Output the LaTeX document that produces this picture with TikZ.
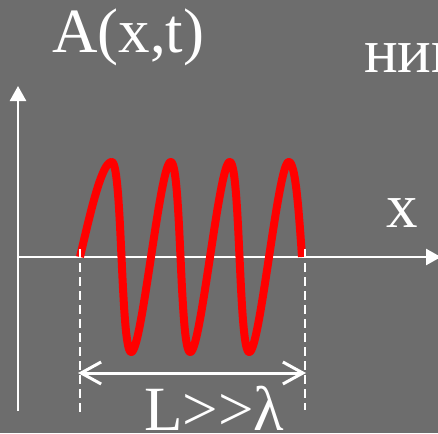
\documentclass[tikz,border=0pt]{standalone}
\usepackage{fontspec}
\setmainfont{Liberation Serif}
\usetikzlibrary{arrows.meta}
\definecolor{bg}{RGB}{109,109,109}
\begin{document}
\begin{tikzpicture}[x=1pt,y=-1pt,
  lbl/.style={anchor=base west, inner sep=0pt, text=white, font=\fontsize{63}{70}\selectfont},
  axis/.style={draw=white, line width=2.5pt, -{Triangle[length=15pt,width=16pt]}},
  guide/.style={draw=white, line width=2pt, dash pattern=on 9pt off 5pt},
  span/.style={draw=white, line width=3pt, {Straight Barb[length=20pt,width=22pt]}-{Straight Barb[length=20pt,width=22pt]}},
  wave/.style={draw=red, line width=8pt, line join=round}]
\useasboundingbox (0,0) rectangle (438,433);
\clip (0,0) rectangle (438,433);
\fill[bg] (0,0) rectangle (438,433);
% coordinates
\coordinate (ybot) at (18,411);
\coordinate (ytop) at (18,86);
\coordinate (xl) at (18,257);
\coordinate (xr) at (441,257);
\coordinate (d1t) at (80,249);
\coordinate (d1b) at (80,415);
\coordinate (d2t) at (305,249);
\coordinate (d2b) at (305,410);
\coordinate (s1) at (78,373);
\coordinate (s2) at (306,373);
% axes
\draw[axis] (ybot) -- (ytop);
\draw[axis] (xl) -- (xr);
% wave
\draw[wave] plot[domain=0:90, samples=40, variable=\t]
   ({92+0.163889*\t+5*sin(\t)-12*(1-\t/90)}, {257-95*sin(\t)})
   -- plot[domain=90:1170, samples=360, variable=\t]
   ({92+0.163889*\t+5*sin(\t)}, {257-95*sin(\t)})
   -- plot[domain=1170:1260, samples=40, variable=\t]
   ({92+0.163889*\t+5*sin(\t)+3.5*(\t-1170)/90}, {257-95*sin(\t)});
% guides
\draw[guide] (d1t) -- (d1b);
\draw[guide] (d2t) -- (d2b);
\draw[span] (s1) -- (s2);
% labels
\node[lbl] (amp) at (52,53) {A(x,t)};
\node[lbl] (cyr) at (364,73) {ник};
\node[lbl] (xlab) at (386,227) {x};
\node[lbl] (len) at (144,430) {L>\kern0pt>λ};
\end{tikzpicture}
\end{document}
